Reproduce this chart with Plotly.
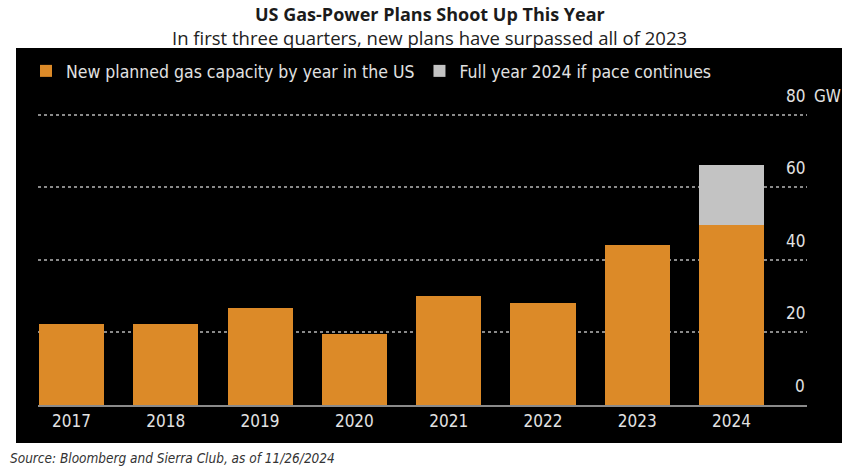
import plotly.graph_objects as go

years = ["2017", "2018", "2019", "2020", "2021", "2022", "2023", "2024"]
new_planned_gw = [22.3, 22.3, 26.8, 19.7, 30.1, 28.0, 44.1, 49.7]
full_year_extra_gw = [None, None, None, None, None, None, None, 16.5]
y_ticks = [0, 20, 40, 60, 80]

ORANGE = "#DC8A28"
GRAY = "#C3C3C3"
TXT = "#E2E2E2"
NARROW = "Liberation Sans Narrow, DejaVu Sans Condensed, Arial Narrow, sans-serif"

fig = go.Figure()
fig.add_trace(go.Bar(x=years, y=new_planned_gw, name="New planned gas capacity by year in the US",
                     marker=dict(color=ORANGE, line=dict(width=0))))
fig.add_trace(go.Bar(x=years, y=full_year_extra_gw, name="Full year 2024 if pace continues",
                     marker=dict(color=GRAY, line=dict(width=0))))

L, R, T, B = 38, 52, 113, 65
W, H = 859, 470
pw, ph = W - L - R, H - T - B

def px_x(p):
    return (p - L) / pw

def px_y(p):
    return (H - B - p) / ph

# black panel
fig.add_shape(type="rect", xref="paper", yref="paper",
              x0=px_x(16), x1=px_x(842), y0=px_y(443), y1=px_y(48),
              fillcolor="black", line=dict(width=0), layer="below")

# y tick labels (above gridlines, right aligned)
for v in y_ticks:
    fig.add_annotation(x=1.0, xref="paper", y=v, yref="y", text=str(v), showarrow=False,
                       xanchor="right", yanchor="middle", yshift=19,
                       font=dict(family=NARROW, size=17, color=TXT))
fig.add_annotation(x=1.0, xref="paper", y=y_ticks[-1], yref="y", text="GW", showarrow=False,
                   xanchor="left", yanchor="middle", yshift=19, xshift=5,
                   font=dict(family=NARROW, size=17, color=TXT))

# titles
cx_shift = W / 2 - (L + pw / 2)
fig.add_annotation(x=0.5, xref="paper", y=px_y(14), yref="paper",
                   text="<b>US Gas-Power Plans Shoot Up This Year</b>", showarrow=False,
                   xanchor="center", yanchor="middle", xshift=cx_shift,
                   font=dict(family="Open Sans, sans-serif", size=18, color="#1b1b1b"))
fig.add_annotation(x=0.5, xref="paper", y=px_y(37), yref="paper",
                   text="In first three quarters, new plans have surpassed all of 2023", showarrow=False,
                   xanchor="center", yanchor="middle", xshift=cx_shift,
                   font=dict(family="Open Sans, sans-serif", size=18.5, color="#222222"))
fig.add_annotation(x=px_x(8), xref="paper", y=px_y(458), yref="paper",
                   text="<i>Source: Bloomberg and Sierra Club, as of 11/26/2024</i>", showarrow=False,
                   xanchor="left", yanchor="middle",
                   font=dict(family=NARROW, size=13.5, color="#333333"))

fig.update_layout(
    width=W, height=H,
    margin=dict(l=L, r=R, t=T, b=B, pad=0),
    paper_bgcolor="white", plot_bgcolor="black",
    barmode="stack", bargap=0.31,
    showlegend=True,
    legend=dict(orientation="h", x=px_x(26), y=px_y(71), xanchor="left", yanchor="middle",
                bgcolor="rgba(0,0,0,0)", font=dict(family=NARROW, size=17.5, color=TXT),
                traceorder="normal", itemwidth=30),
    xaxis=dict(range=[-0.355, 7.80], showgrid=False, showline=True, linecolor="#8a8a8a", linewidth=2,
               ticks="", tickfont=dict(family=NARROW, size=17, color=TXT), zeroline=False,
               fixedrange=True),
    yaxis=dict(range=[0, 80.5], showgrid=True, gridcolor="#8a8a8a", gridwidth=1.5, griddash="dot",
               showticklabels=False, zeroline=False, showline=False, tickvals=y_ticks, fixedrange=True),
)

fig.write_html("out.html", config={"displayModeBar": False},
               post_script="document.body.style.margin='0';document.body.style.overflow='hidden';")
